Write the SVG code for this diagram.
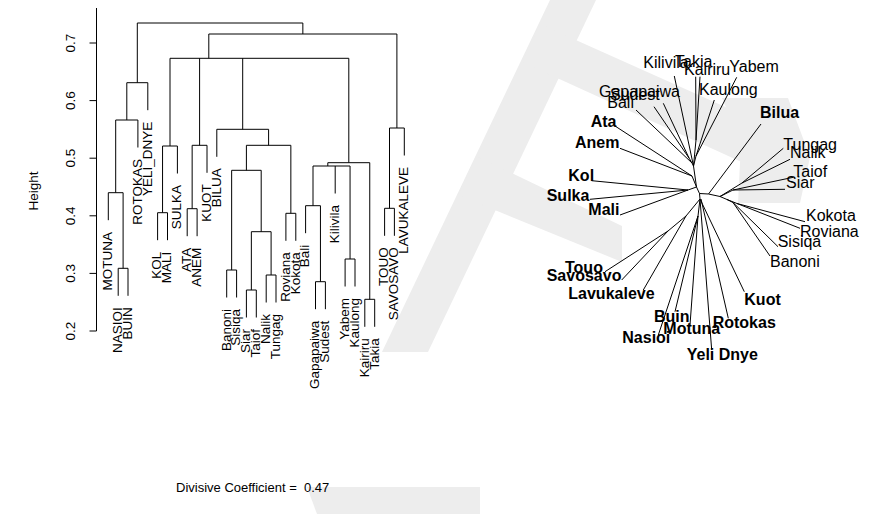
<svg xmlns="http://www.w3.org/2000/svg" width="873" height="514" viewBox="0 0 873 514">
<style>
.ln{stroke:#000;stroke-width:1;fill:none}
.wm{fill:#ededed;stroke:none}
.t{font-family:"Liberation Sans",Arial,sans-serif;font-size:13.5px;fill:#000;white-space:pre}
.lf{font-family:"Liberation Sans",Arial,sans-serif;font-size:13.5px;fill:#000;text-anchor:end}
.tr{font-family:"Liberation Sans",Arial,sans-serif;font-size:16px;fill:#000}
.tb{font-family:"Liberation Sans",Arial,sans-serif;font-size:16px;fill:#000;font-weight:bold}
</style>
<rect width="873" height="514" fill="#fff"/>
<g id="watermark">
<polygon class="wm" points="550,0 596,0 428,352 382,352"/>
<polygon class="wm" points="540,24 790,136 790,184 522,62"/>
<path class="wm" d="M722 98H788L810 157L800 203H738L741 143Z"/>
<polygon class="wm" points="476,156 622,226 622,262 458,195"/>
<polygon class="wm" points="307,487 480,487 480,514 317,514"/>
</g>
<g id="axis">
<path class="ln" d="M96.5 8V331M89.5 331H96.5M89.5 273.4H96.5M89.5 215.8H96.5M89.5 158.2H96.5M89.5 100.6H96.5M89.5 43H96.5"/>
<text class="t" text-anchor="middle" transform="translate(75,331) rotate(-90)">0.2</text>
<text class="t" text-anchor="middle" transform="translate(75,273.4) rotate(-90)">0.3</text>
<text class="t" text-anchor="middle" transform="translate(75,215.8) rotate(-90)">0.4</text>
<text class="t" text-anchor="middle" transform="translate(75,158.2) rotate(-90)">0.5</text>
<text class="t" text-anchor="middle" transform="translate(75,100.6) rotate(-90)">0.6</text>
<text class="t" text-anchor="middle" transform="translate(75,43) rotate(-90)">0.7</text>
<text class="t" text-anchor="middle" transform="translate(38,191) rotate(-90)">Height</text>
</g>
<g id="dendrogram">
<path class="ln" d="M118.2 295.8V268.3H128V295.8M123.1 268.3V192.7M108.3 220.2V192.7H123.1M115.7 192.7V120M115.7 120H137.9V147.5M126.8 120V82.7H147.8V110.2M137.3 82.7V23H302.85V34"/>
<path class="ln" d="M157.6 240.2V212.7H167.5V240.2M162.55 212.7V146H177.4V173.5M187.2 236.2V208.7H197.1V236.2M192.15 208.7V145.3H207V172.8"/>
<path class="ln" d="M226.7 297.5V270H236.6V297.5M246.4 317.5V290H256.3V317.5M266.2 302.5V275H276V302.5M251.35 290V231.7H271.1V275M231.65 270V170.3H261.2V231.7M285.9 240.8V213.3H295.8V240.8M246.4 170.3V145.3H290.85V213.3M216.8 156.8V129.3H268.6V145.3"/>
<path class="ln" d="M315.5 309.2V281.7H325.4V309.2M305.6 233.2V205.7H320.45V281.7M345.1 286.5V259H355V286.5M335.2 193.5V166M313 205.7V166H350.05V259M364.8 326.8V299.3H374.7V326.8M327.8 166V162.7H369.75V299.3"/>
<path class="ln" d="M170 146V58.3H348.8V162.7M199.6 145.3V58.3M242.7 129.3V58.3M384.6 235.8V208.3H394.4V235.8M389.5 208.3V128H404.3V155.5M208.8 58.3V34H396.9V128"/>
</g>
<g id="leaf-labels">
<text class="lf" transform="translate(112,232) rotate(-90)">MOTUNA</text>
<text class="lf" transform="translate(122,307.3) rotate(-90)">NASIOI</text>
<text class="lf" transform="translate(131.8,307.3) rotate(-90)">BUIN</text>
<text class="lf" transform="translate(141.7,159) rotate(-90)">ROTOKAS</text>
<text class="lf" transform="translate(151.6,121.7) rotate(-90)">YELI_DNYE</text>
<text class="lf" transform="translate(161.4,251.7) rotate(-90)">KOL</text>
<text class="lf" transform="translate(171.3,251.7) rotate(-90)">MALI</text>
<text class="lf" transform="translate(181.2,185) rotate(-90)">SULKA</text>
<text class="lf" transform="translate(191,247.7) rotate(-90)">ATA</text>
<text class="lf" transform="translate(200.9,247.7) rotate(-90)">ANEM</text>
<text class="lf" transform="translate(210.8,184.3) rotate(-90)">KUOT</text>
<text class="lf" transform="translate(220.6,168.3) rotate(-90)">BILUA</text>
<text class="lf" transform="translate(230.5,309) rotate(-90)">Banoni</text>
<text class="lf" transform="translate(240.4,309) rotate(-90)">Sisiqa</text>
<text class="lf" transform="translate(250.2,329) rotate(-90)">Siar</text>
<text class="lf" transform="translate(260.1,329) rotate(-90)">Taiof</text>
<text class="lf" transform="translate(270,314) rotate(-90)">Nalik</text>
<text class="lf" transform="translate(279.8,314) rotate(-90)">Tungag</text>
<text class="lf" transform="translate(289.7,252.3) rotate(-90)">Roviana</text>
<text class="lf" transform="translate(299.6,252.3) rotate(-90)">Kokota</text>
<text class="lf" transform="translate(309.4,244.7) rotate(-90)">Bali</text>
<text class="lf" transform="translate(319.3,320.7) rotate(-90)">Gapapaiwa</text>
<text class="lf" transform="translate(329.2,320.7) rotate(-90)">Sudest</text>
<text class="lf" transform="translate(339,205) rotate(-90)">Kilivila</text>
<text class="lf" transform="translate(348.9,298) rotate(-90)">Yabem</text>
<text class="lf" transform="translate(358.8,298) rotate(-90)">Kaulong</text>
<text class="lf" transform="translate(368.6,338.3) rotate(-90)">Kairiru</text>
<text class="lf" transform="translate(378.5,338.3) rotate(-90)">Takia</text>
<text class="lf" transform="translate(388.4,247.3) rotate(-90)">TOUO</text>
<text class="lf" transform="translate(398.2,247.3) rotate(-90)">SAVOSAVO</text>
<text class="lf" transform="translate(408.1,167) rotate(-90)">LAVUKALEVE</text>
</g>
<g id="coef">
<text class="t" x="176" y="492" style="font-size:13px" xml:space="preserve">Divisive Coefficient =  0.47</text>
</g>
<g id="tree-edges">
<path class="ln" d="M674.3 76L693.5 166M695.7 76.7L696 140M700 76.7L696 140M696 140L693.5 166M714.3 100L696 156M736.7 77.3L696 156M696 156L693.5 166M663.3 103.3L689 158M654 106.7L689 158M689 158L692 163M636 110L692 163M692 163L693.5 166M693.5 166L696.5 187M615 126L692 176M620 148.3L692 176M692 176L696.5 187M591.7 180.7L688 190M590 199.3L688 190M620 215L688 190M688 190L696.5 187M696.5 187L699.5 193.5"/>
<path class="ln" d="M699.5 193.5L708.5 194L761 124M708.5 194L720 196.5M720 196.5L742 183M783.3 148.3L742 183M790 159.3L742 183M720 196.5L733 190M793.3 177.3L733 190M785 189.3L733 190M720 196.5L727 199.5M727 199.5L737 203.5M805 221.7L737 203.5M800 228.3L737 203.5M727 199.5L733 202.5M778 246.7L733 202.5M770 256L733 202.5"/>
<path class="ln" d="M699.5 193.5L700 199M700 199L744.3 291.7M701 199L728.3 318.3M700 199L711.7 350M700 199L698 216M698 216L690 325M698 216L675 311.7M698 216L658.3 335M700 199L686 216M686 216L643.3 290M686 216L668 231M668 231L605 271.7M668 231L621.7 280"/>
</g>
<g id="tip-labels">
<text class="tr" x="643.3" y="68.3">Kilivila</text>
<text class="tr" x="675" y="66.7">Takia</text>
<text class="tr" x="684" y="75">Kairiru</text>
<text class="tr" x="729.3" y="71.7">Yabem</text>
<text class="tr" x="699" y="95">Kaulong</text>
<text class="tr" x="599" y="96.7">Gapapaiwa</text>
<text class="tr" x="610" y="100">Sudest</text>
<text class="tr" x="607.3" y="108.3">Bali</text>
<text class="tr" x="783.3" y="150">Tungag</text>
<text class="tr" x="790" y="158.3">Nalik</text>
<text class="tr" x="793.3" y="176.7">Taiof</text>
<text class="tr" x="786" y="188.3">Siar</text>
<text class="tr" x="806" y="220.7">Kokota</text>
<text class="tr" x="800" y="236.7">Roviana</text>
<text class="tr" x="777.7" y="246.7">Sisiqa</text>
<text class="tr" x="770" y="266.7">Banoni</text>
<text class="tb" x="760" y="118.3">Bilua</text>
<text class="tb" x="590.7" y="126.7">Ata</text>
<text class="tb" x="575" y="147.7">Anem</text>
<text class="tb" x="568.3" y="180.7">Kol</text>
<text class="tb" x="546.7" y="200.7">Sulka</text>
<text class="tb" x="588.3" y="215">Mali</text>
<text class="tb" x="565" y="273.3">Touo</text>
<text class="tb" x="546.7" y="280.7">Savosavo</text>
<text class="tb" x="568.3" y="299">Lavukaleve</text>
<text class="tb" x="654" y="321.7">Buin</text>
<text class="tb" x="663.3" y="334">Motuna</text>
<text class="tb" x="622.3" y="343.3">Nasioi</text>
<text class="tb" x="686.7" y="360">Yeli Dnye</text>
<text class="tb" x="712.7" y="328.3">Rotokas</text>
<text class="tb" x="744.3" y="305">Kuot</text>
</g>
</svg>
